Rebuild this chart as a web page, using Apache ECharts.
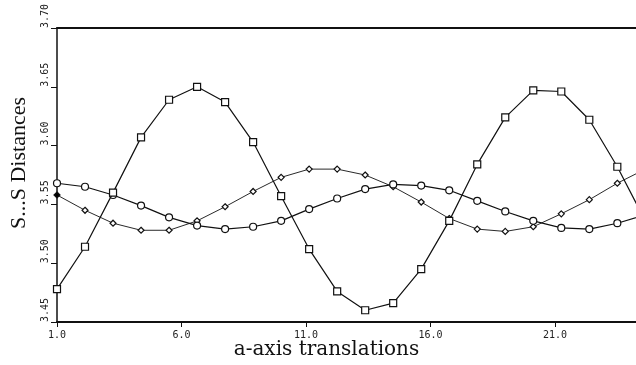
<!DOCTYPE html>
<html>
<head>
<meta charset="utf-8">
<script src="https://cdn.jsdelivr.net/npm/echarts@6/dist/echarts.min.js"></script>
<style>
  html, body { margin: 0; padding: 0; background: #fff; }
  #chart { width: 636px; height: 365px; }
</style>
</head>
<body>
<div id="chart"></div>
<script>
// x positions of the translation steps
const xSteps = [1.0, 2.125, 3.25, 4.375, 5.5, 6.625, 7.75, 8.875, 10.0, 11.125, 12.25,
  13.375, 14.5, 15.625, 16.75, 17.875, 19.0, 20.125, 21.25, 22.375, 23.5, 24.625];

const squareValues = [3.478, 3.514, 3.560, 3.607, 3.639, 3.650, 3.637, 3.603, 3.557, 3.512, 3.476,
  3.460, 3.466, 3.495, 3.536, 3.584, 3.624, 3.647, 3.646, 3.622, 3.582, 3.536];

const diamondValues = [3.558, 3.545, 3.534, 3.528, 3.528, 3.536, 3.548, 3.561, 3.573, 3.580, 3.580,
  3.575, 3.565, 3.552, 3.538, 3.529, 3.527, 3.531, 3.542, 3.554, 3.568, 3.580];

const circleValues = [3.568, 3.565, 3.558, 3.549, 3.539, 3.532, 3.529, 3.531, 3.536, 3.546, 3.555,
  3.563, 3.567, 3.566, 3.562, 3.553, 3.544, 3.536, 3.530, 3.529, 3.534, 3.541];

const pairs = (ys) => ys.map((y, i) => [xSteps[i], y]);

const chart = echarts.init(document.getElementById('chart'), null, { renderer: 'canvas' });

const diamondData = pairs(diamondValues);
diamondData[0] = { value: diamondData[0], itemStyle: { color: '#000' } };

const lineSeries = (name, data, symbol, size, width) => ({
  name: name,
  type: 'line',
  data: data,
  symbol: symbol,
  symbolSize: size,
  showAllSymbol: true,
  clip: true,
  z: symbol === 'rect' ? 3 : 2,
  lineStyle: { color: '#111', width: width },
  itemStyle: { color: '#fff', borderColor: '#111', borderWidth: 1.2 }
});

const option = {
  animation: false,
  backgroundColor: '#fff',
  grid: { left: 57, right: 0, top: 28, bottom: 43, containLabel: false, outerBoundsMode: 'none' },
  xAxis: [
    {
      type: 'value',
      min: 1,
      max: 24.25,
      interval: 5,
      name: 'a-axis translations',
      nameLocation: 'middle',
      nameGap: 18,
      nameMoveOverlap: false,
      nameTextStyle: { fontFamily: 'DejaVu Serif', fontSize: 20, color: '#111', padding: [0, 40, 0, 0] },
      axisLine: { onZero: false, lineStyle: { color: '#111', width: 2 } },
      axisTick: { show: true, length: 5, lineStyle: { color: '#111' } },
      axisLabel: {
        showMaxLabel: false,
        margin: 8,
        fontFamily: 'DejaVu Sans Mono',
        fontSize: 10,
        color: '#222',
        formatter: (v) => v.toFixed(1)
      },
      splitLine: { show: false }
    },
    {
      type: 'value',
      position: 'top',
      min: 1,
      max: 24.25,
      axisLine: { show: true, lineStyle: { color: '#111', width: 2 } },
      axisTick: { show: false },
      axisLabel: { show: false },
      splitLine: { show: false }
    }
  ],
  yAxis: {
    type: 'value',
    min: 3.45,
    max: 3.70,
    interval: 0.05,
    name: 'S...S Distances',
    nameLocation: 'middle',
    nameGap: 27,
    nameMoveOverlap: false,
    nameRotate: 90,
    nameTextStyle: { fontFamily: 'Liberation Serif', fontSize: 22, color: '#111', padding: [0, 0, 0, 24] },
    axisLine: { show: true, onZero: false, lineStyle: { color: '#111', width: 1.5 } },
    axisTick: { show: true, length: 6, lineStyle: { color: '#111' } },
    axisLabel: {
      rotate: 90,
      margin: 7,
      align: 'left',
      verticalAlign: 'bottom',
      fontFamily: 'DejaVu Sans Mono',
      fontSize: 10,
      color: '#222',
      formatter: (v) => v.toFixed(2)
    },
    splitLine: { show: false }
  },
  series: [
    lineSeries('squares', pairs(squareValues), 'rect', 7, 1.2),
    lineSeries('diamonds', diamondData, 'diamond', 6, 0.9),
    lineSeries('circles', pairs(circleValues), 'circle', 7, 1.2)
  ]
};

chart.setOption(option);
window.addEventListener('resize', () => chart.resize());
</script>
</body>
</html>
